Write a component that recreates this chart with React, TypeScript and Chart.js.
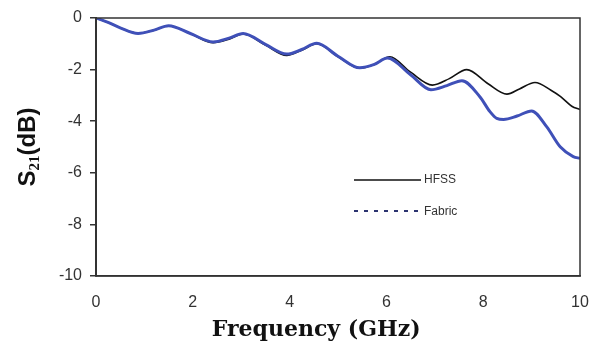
import React, { useEffect, useRef } from "react";
import { Chart, registerables } from "chart.js";
Chart.register(...registerables);

const hfssFreq = [0, 0.25, 0.5, 0.87, 1.2, 1.5, 1.95, 2.42, 2.75, 3.04, 3.5, 3.94, 4.25, 4.56, 5.0, 5.45, 5.75, 6.07, 6.5, 6.95, 7.3, 7.66, 8.1, 8.49, 8.75, 9.07, 9.4, 9.6, 9.83, 10];
const hfssS21 = [0, -0.17, -0.38, -0.59, -0.47, -0.3, -0.6, -0.96, -0.82, -0.62, -1.05, -1.45, -1.25, -1.0, -1.5, -1.95, -1.8, -1.5, -2.1, -2.6, -2.35, -2.0, -2.55, -2.95, -2.75, -2.5, -2.8, -3.05, -3.42, -3.55];

const fabFreq = [0, 0.25, 0.5, 0.87, 1.2, 1.5, 1.95, 2.42, 2.75, 3.04, 3.5, 3.94, 4.25, 4.56, 5.0, 5.45, 5.75, 6.02, 6.5, 6.92, 7.25, 7.56, 7.93, 8.14, 8.28, 8.42, 8.7, 9.0, 9.31, 9.59, 9.86, 10];
const fabS21 = [0, -0.17, -0.38, -0.6, -0.47, -0.3, -0.6, -0.93, -0.78, -0.6, -1.02, -1.4, -1.22, -0.98, -1.48, -1.93, -1.8, -1.55, -2.2, -2.78, -2.62, -2.43, -3.05, -3.63, -3.89, -3.93, -3.8, -3.6, -4.21, -4.99, -5.37, -5.44];

const seriesLabels = ["HFSS", "Fabric"];
const xAxisTitle = "Frequency (GHz)";

export default function App() {
  const ref = useRef<HTMLCanvasElement>(null);
  useEffect(() => {
    document.body.style.margin = "0";
    const canvas = ref.current!;
    const overlay = {
      id: "overlay",
      afterDraw(chart: any) {
        const { ctx, chartArea: a } = chart;
        ctx.save();
        // frame
        ctx.strokeStyle = "#333";
        ctx.lineWidth = 1.5;
        ctx.strokeRect(a.left, a.top, a.right - a.left, a.bottom - a.top);
        ctx.lineWidth = 2;
        ctx.beginPath();
        ctx.moveTo(a.left, a.top);
        ctx.lineTo(a.left, a.bottom);
        ctx.stroke();
        // x title
        ctx.fillStyle = "#111";
        ctx.font = "bold 22px 'DejaVu Serif'";
        ctx.textAlign = "center";
        ctx.textBaseline = "middle";
        ctx.fillText(xAxisTitle, a.left + 0.455 * (a.right - a.left), 330);
        // y title with subscript
        ctx.save();
        ctx.translate(26, (a.top + a.bottom) / 2);
        ctx.rotate(-Math.PI / 2);
        ctx.textAlign = "left";
        ctx.textBaseline = "alphabetic";
        const big = "bold 24px 'Liberation Sans'";
        const small = "bold 15px 'Liberation Serif'";
        ctx.font = big;
        const wS = ctx.measureText("S").width;
        const wP = ctx.measureText("(dB)").width;
        ctx.font = small;
        const w21 = ctx.measureText("21").width;
        const total = wS + w21 + wP;
        let x = -total / 2;
        const base = 9;
        ctx.font = big;
        ctx.fillText("S", x, base);
        x += wS;
        ctx.font = small;
        ctx.fillText("21", x, base + 4);
        x += w21;
        ctx.font = big;
        ctx.fillText("(dB)", x, base);
        ctx.restore();
        // legend
        const lx0 = 354, lx1 = 421;
        ctx.strokeStyle = "#111";
        ctx.lineWidth = 1.5;
        ctx.beginPath();
        ctx.moveTo(lx0, 180);
        ctx.lineTo(lx1, 180);
        ctx.stroke();
        ctx.strokeStyle = "#2c3470";
        ctx.setLineDash([4, 6]);
        ctx.lineWidth = 2;
        ctx.beginPath();
        ctx.moveTo(lx0, 211);
        ctx.lineTo(lx1 - 3, 211);
        ctx.stroke();
        ctx.setLineDash([]);
        ctx.fillStyle = "#333";
        ctx.font = "12px 'Liberation Sans'";
        ctx.textAlign = "left";
        ctx.textBaseline = "middle";
        ctx.fillText(seriesLabels[0], 424, 180);
        ctx.fillText(seriesLabels[1], 424, 212);
        ctx.restore();
      },
    };
    const chart = new Chart(canvas, {
      type: "line",
      data: {
        datasets: [
          {
            label: seriesLabels[1],
            data: fabFreq.map((f, i) => ({ x: f, y: fabS21[i] })),
            borderColor: "#3f50b8",
            borderWidth: 3,
            pointRadius: 0,
            cubicInterpolationMode: "monotone",
            order: 0,
          },
          {
            label: seriesLabels[0],
            data: hfssFreq.map((f, i) => ({ x: f, y: hfssS21[i] })),
            borderColor: "#111",
            borderWidth: 1.6,
            pointRadius: 0,
            cubicInterpolationMode: "monotone",
            order: 1,
          },
        ],
      },
      options: {
        responsive: false,
        animation: false,
        layout: { padding: { top: 18, right: 16, left: 0, bottom: 0 } },
        plugins: { legend: { display: false }, tooltip: { enabled: false } },
        scales: {
          x: {
            type: "linear",
            min: 0,
            max: 10,
            ticks: { stepSize: 2, padding: 17, color: "#333", font: { family: "'Liberation Sans'", size: 16 } },
            grid: { display: false, drawTicks: false },
            border: { display: true, color: "#333", width: 1.5 },
            afterFit: (s: any) => { s.height = 69; s.paddingLeft = 0; s.paddingRight = 0; },
          },
          y: {
            min: -10,
            max: 0,
            ticks: { stepSize: 2, padding: 8, color: "#333", font: { family: "'Liberation Sans'", size: 16 } },
            grid: { drawOnChartArea: false, drawTicks: true, tickLength: 6, color: "#333", lineWidth: 1.5 },
            border: { display: true, color: "#333", width: 2 },
            afterFit: (s: any) => { s.width = 96; s.paddingTop = 0; s.paddingBottom = 0; },
          },
        },
      },
      plugins: [overlay],
    } as any);
    return () => chart.destroy();
  }, []);
  return <canvas ref={ref} width={596} height={345} style={{ display: "block" }} />;
}
